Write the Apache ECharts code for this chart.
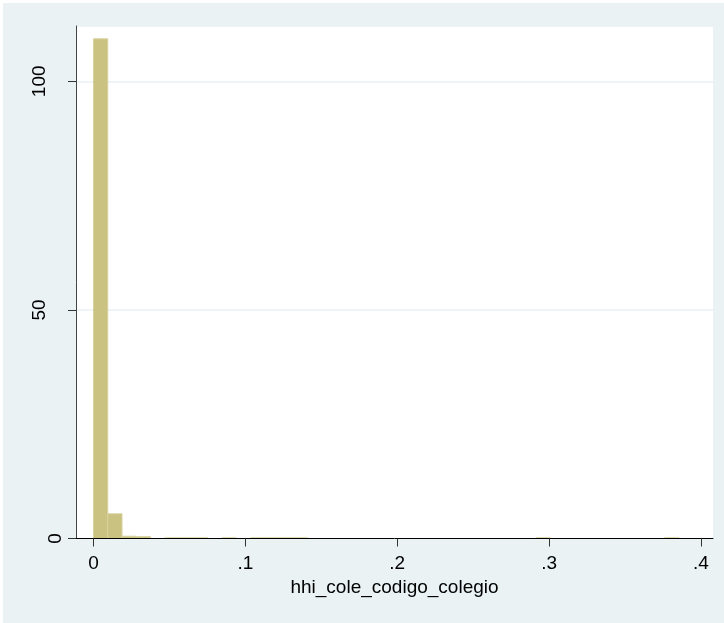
<!DOCTYPE html>
<html>
<head>
<meta charset="utf-8">
<script src="https://cdn.jsdelivr.net/npm/echarts@6/dist/echarts.min.js"></script>
<style>
  html, body { margin: 0; padding: 0; background: #ffffff; }
  #chart { width: 724px; height: 623px; }
</style>
</head>
<body>
<div id="chart"></div>
<script>
// ---- data ----
const xTitle = 'hhi_cole_codigo_colegio';
const binWidth = 0.0094;
const binLower = [0, 0.0094, 0.0188, 0.0282, 0.0470, 0.0564, 0.0658, 0.0846, 0.1034, 0.1128, 0.1222, 0.1316, 0.2914, 0.3760];
const density  = [109.3, 5.4, 0.5, 0.4, 0.15, 0.15, 0.15, 0.15, 0.15, 0.15, 0.15, 0.15, 0.15, 0.15];
const xTicks = [0, 0.1, 0.2, 0.3, 0.4];
const yTicks = [0, 50, 100];
const xMin = -0.0115, xMax = 0.4079;
const yMin = 0, yMax = 112.1;

const fmtX = v => (v === 0 ? '0' : String(+v.toFixed(2)).replace(/^0/, ''));
const FONT = 'Liberation Sans, Arial, Helvetica, sans-serif';

const seriesData = binLower.map((lo, i) => [lo, lo + binWidth, density[i]]);

const chart = echarts.init(document.getElementById('chart'), null, { renderer: 'canvas' });
chart.setOption({
  animation: false,
  backgroundColor: '#ffffff',
  graphic: [{
    type: 'rect', z: -10, silent: true,
    shape: { x: 3, y: 3, width: 721, height: 620 },
    style: { fill: '#eaf2f3' }
  }],
  grid: {
    left: 76, top: 26, right: 11, bottom: 84.5,
    show: true, backgroundColor: '#ffffff', borderWidth: 0
  },
  xAxis: {
    type: 'value', min: xMin, max: xMax, z: 5,
    name: xTitle, nameLocation: 'middle', nameGap: 37,
    nameTextStyle: { fontFamily: FONT, fontSize: 19, color: '#000' },
    axisLine: { show: true, lineStyle: { color: '#000', width: 1 } },
    axisTick: { show: true, length: 8, customValues: xTicks, lineStyle: { color: '#333', width: 1 } },
    axisLabel: { customValues: xTicks, margin: 16, fontFamily: FONT, fontSize: 19, color: '#000', formatter: fmtX },
    splitLine: { show: false }
  },
  yAxis: [{
    type: 'value', min: yMin, max: yMax, interval: 50, z: 0,
    axisLine: { show: false },
    axisTick: { show: false },
    axisLabel: { customValues: [50, 100], rotate: 90, margin: 27, fontFamily: FONT, fontSize: 19, color: '#000' },
    splitLine: { show: true, lineStyle: { color: '#eaf2f3', width: 1.5 } }
  }, {
    type: 'value', min: yMin, max: yMax, interval: 50, z: 5, position: 'left', offset: 0,
    axisLine: { show: true, onZero: false, lineStyle: { color: '#444', width: 1 } },
    axisTick: { show: true, length: 8, customValues: yTicks, lineStyle: { color: '#333', width: 1 } },
    axisLabel: { customValues: [0], rotate: 90, margin: 11, fontFamily: FONT, fontSize: 19, color: '#000' },
    splitLine: { show: false }
  }],
  series: [{
    type: 'custom', yAxisIndex: 0, z: 2, clip: true,
    encode: { x: [0, 1], y: 2 },
    data: seriesData,
    renderItem: function (params, api) {
      const p0 = api.coord([api.value(0), api.value(2)]);
      const p1 = api.coord([api.value(1), 0]);
      return {
        type: 'rect',
        shape: { x: p0[0], y: p0[1], width: p1[0] - p0[0], height: p1[1] - p0[1] },
        style: { fill: '#cac281', stroke: '#d8d29f', lineWidth: 1 }
      };
    }
  }]
});
</script>
</body>
</html>
